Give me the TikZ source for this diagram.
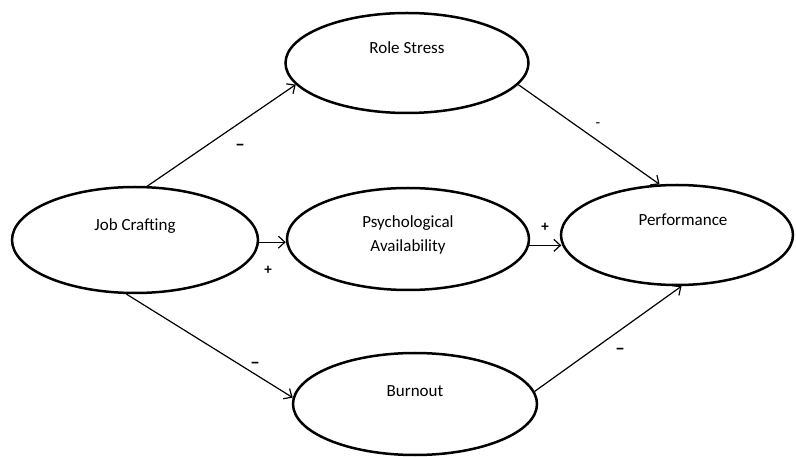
\documentclass[tikz,border=0pt]{standalone}
\usepackage{fontspec}
\setmainfont{Carlito}
\usetikzlibrary{shapes.geometric,arrows.meta}
\begin{document}
\begin{tikzpicture}[x=1pt,y=-1pt,
  oval/.style={ellipse,draw,line width=2.5pt,inner sep=0pt},
  txt/.style={font=\fontsize{17}{24}\selectfont,align=center,inner sep=0pt},
  conn/.style={line width=1.2pt,-{Straight Barb[length=6.5pt,width=12pt]}},
  sgn/.style={font=\fontsize{15}{16}\selectfont\bfseries,inner sep=0pt},
  dsh/.style={font=\fontsize{19}{19}\selectfont\bfseries,inner sep=0pt},
  thin/.style={font=\fontsize{15}{16}\selectfont,inner sep=0pt}]
\useasboundingbox (0,0) rectangle (796,457);
\fill[white] (0,0) rectangle (796,457);
% ellipses
\node[oval,minimum width=246pt,minimum height=106pt] (job)   at (135,240) {};
\node[oval,minimum width=243pt,minimum height=100pt] (role)  at (407,63)  {};
\node[oval,minimum width=242pt,minimum height=102pt] (psych) at (408,239) {};
\node[oval,minimum width=232pt,minimum height=100pt] (perf)  at (677,235) {};
\node[oval,minimum width=244pt,minimum height=102pt] (burn)  at (415,404) {};
% texts
\node[txt] (jobT)   at (135,226) {Job Crafting};
\node[txt] (roleT)  at (407,48)  {Role Stress};
\node[txt] (psychT) at (408,235) {Psychological\\Availability};
\node[txt] (perfT)  at (683,220) {Performance};
\node[txt] (burnT)  at (415,391) {Burnout};
% connectors
\draw[conn] (job.77)     -- (role.191.8);
\draw[conn] (role.349)   -- (perf.109.1);
\draw[conn] (job.-1.4)   -- (job.-1.4 -| psych.west);
\draw[conn] (psych.357.6) -- ([xshift=1.5pt]psych.357.6 -| perf.west);
\draw[conn] (job.261.6)  -- (burn.177.7);
\draw[conn] (burn.6.2)   -- (perf.275.5);
% signs
\node[dsh]  (s1) at (240,147) {--};
\node[thin] (s2) at (598,125) {-};
\node[sgn]  (s3) at (268,270) {+};
\node[sgn]  (s4) at (545,227) {+};
\node[dsh]  (s5) at (255,365) {--};
\node[dsh]  (s6) at (620,351) {--};
\end{tikzpicture}
\end{document}
